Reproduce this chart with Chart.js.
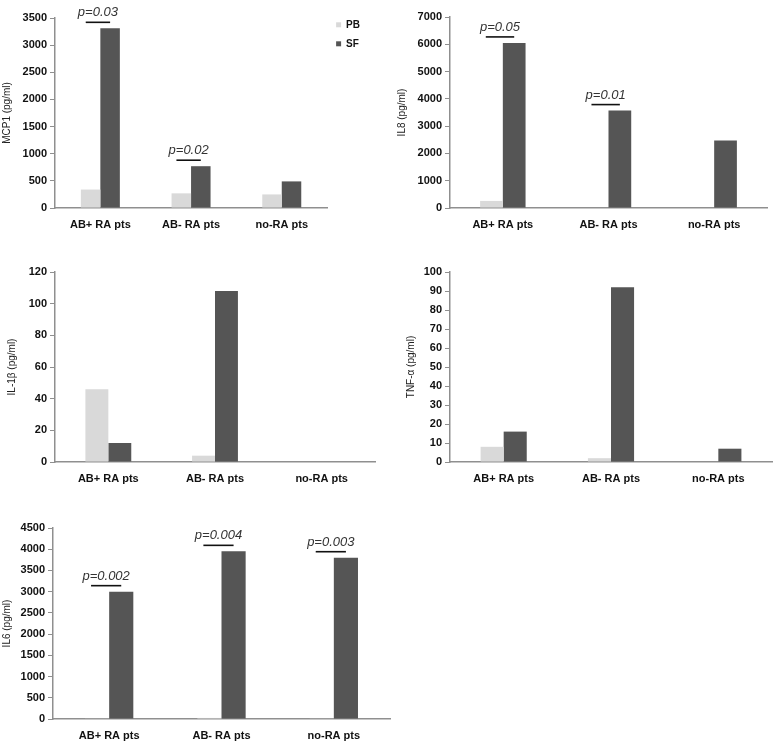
<!DOCTYPE html>
<html>
<head>
<meta charset="utf-8">
<script src="https://cdn.jsdelivr.net/npm/chart.js@4.4.1/dist/chart.umd.min.js"></script>
<style>
  body { margin: 0; background: #fff; }
  #wrap { position: relative; width: 773px; height: 743px; }
  .panel { position: absolute; }
</style>
</head>
<body>
<div id="wrap">
  <div class="panel" style="left:0;top:0"><canvas id="mcp1" width="390" height="240"></canvas></div>
  <div class="panel" style="left:390px;top:0"><canvas id="il8" width="383" height="240"></canvas></div>
  <div class="panel" style="left:0;top:240px"><canvas id="il1b" width="390" height="250"></canvas></div>
  <div class="panel" style="left:390px;top:240px"><canvas id="tnfa" width="383" height="250"></canvas></div>
  <div class="panel" style="left:0;top:490px"><canvas id="il6" width="400" height="253"></canvas></div>
</div>
<script>
const categories = ["AB+ RA pts", "AB- RA pts", "no-RA pts"];

const mcp1PB = [340, 270, 250];
const mcp1SF = [3310, 770, 490];
const mcp1P = ["p=0.03", "p=0.02", ""];

const il8PB = [260, 0, 0];
const il8SF = [6050, 3570, 2470];
const il8P = ["p=0.05", "p=0.01", ""];

const il1bPB = [46, 4, 0];
const il1bSF = [12, 108, 0];

const tnfaPB = [8, 2, 0];
const tnfaSF = [16, 92, 7];

const il6PB = [8, 25, 8];
const il6SF = [3000, 3950, 3800];
const il6P = ["p=0.002", "p=0.004", "p=0.003"];

const PB_COLOR = "#d9d9d9";
const SF_COLOR = "#555555";
const AXIS = "#8f8f8f";
const FONT = "'Liberation Sans', Arial, Helvetica, sans-serif";

// p-value bars above the SF bar of each group
const pvalPlugin = {
    id: "pvals",
    afterDatasetsDraw(chart, args, opts) {
        const labels = opts.labels || [];
        const ctx = chart.ctx;
        const pb = chart.getDatasetMeta(0).data;
        const sf = chart.getDatasetMeta(1).data;
        labels.forEach((txt, i) => {
            if (!txt) return;
            const w = sf[i].width;
            const cx = (pb[i].x + sf[i].x) / 2;
            const y = sf[i].y - 6;
            const x1 = cx - 0.75 * w;
            const x2 = cx + 0.5 * w;
            ctx.save();
            ctx.strokeStyle = "#111";
            ctx.lineWidth = 1.6;
            ctx.beginPath();
            ctx.moveTo(x1, y);
            ctx.lineTo(x2, y);
            ctx.stroke();
            ctx.fillStyle = "#333";
            ctx.font = "italic 13px " + FONT;
            ctx.textAlign = "center";
            ctx.textBaseline = "alphabetic";
            ctx.fillText(txt, (x1 + x2) / 2, y - 6);
            ctx.restore();
        });
    }
};

function makePanel(id, cfg) {
    const showLegend = !!cfg.legend;
    return new Chart(document.getElementById(id), {
        type: "bar",
        data: {
            labels: categories,
            datasets: [
                { label: "PB", data: cfg.pb, backgroundColor: PB_COLOR, categoryPercentage: 0.43, barPercentage: 1 },
                { label: "SF", data: cfg.sf, backgroundColor: SF_COLOR, categoryPercentage: 0.43, barPercentage: 1 }
            ]
        },
        options: {
            responsive: false,
            animation: false,
            layout: {
                padding: { top: cfg.top, right: cfg.right, left: cfg.left, bottom: 0 }
            },
            plugins: {
                title: showLegend
                    ? { display: true, text: "", padding: 0, font: { size: 15, lineHeight: 1.2 } }
                    : { display: false },
                legend: {
                    display: showLegend,
                    position: "right",
                    align: "start",
                    title: { display: true, text: "", padding: 0, font: { size: 9, lineHeight: 1.2 } },
                    labels: {
                        boxWidth: 5,
                        boxHeight: 5,
                        padding: 9,
                        color: "#111",
                        font: { family: FONT, size: 10, weight: "bold" }
                    }
                },
                tooltip: { enabled: false },
                pvals: { labels: cfg.p || [] }
            },
            scales: {
                x: {
                    grid: { display: false, drawTicks: false },
                    border: { color: AXIS, width: 1.5 },
                    ticks: {
                        color: "#111",
                        padding: 10,
                        font: { family: FONT, size: 11, weight: "bold" }
                    },
                    afterFit: s => { s.height = cfg.xh; }
                },
                y: {
                    min: 0,
                    max: cfg.max,
                    ticks: {
                        stepSize: cfg.step,
                        format: { useGrouping: false },
                        color: "#111",
                        padding: 3,
                        font: { family: FONT, size: 11, weight: "bold" }
                    },
                    grid: { drawOnChartArea: false, tickLength: 5, color: AXIS, lineWidth: 1 },
                    border: { color: AXIS, width: 1.5 },
                    title: {
                        display: true,
                        text: cfg.title,
                        color: "#222",
                        padding: 0,
                        font: { family: FONT, size: 10 }
                    },
                    afterFit: s => { s.width = cfg.yw; }
                }
            }
        },
        plugins: [pvalPlugin]
    });
}

makePanel("mcp1", { pb: mcp1PB, sf: mcp1SF, p: mcp1P, title: "MCP1 (pg/ml)", max: 3500, step: 500,
    top: 0, left: 1, right: 20, yw: 54, xh: 32, legend: true });
makePanel("il8", { pb: il8PB, sf: il8SF, p: il8P, title: "IL8 (pg/ml)", max: 7000, step: 1000,
    top: 17, left: 6, right: 6, yw: 54, xh: 32 });
makePanel("il1b", { pb: il1bPB, sf: il1bSF, title: "IL-1β (pg/ml)", max: 120, step: 20,
    top: 32, left: 6, right: 15, yw: 49, xh: 28 });
makePanel("tnfa", { pb: tnfaPB, sf: tnfaSF, title: "TNF-α (pg/ml)", max: 100, step: 10,
    top: 32, left: 15, right: 1, yw: 45, xh: 28 });
makePanel("il6", { pb: il6PB, sf: il6SF, p: il6P, title: "IL6 (pg/ml)", max: 4500, step: 500,
    top: 38, left: 1, right: 10, yw: 52, xh: 24 });
</script>
</body>
</html>
